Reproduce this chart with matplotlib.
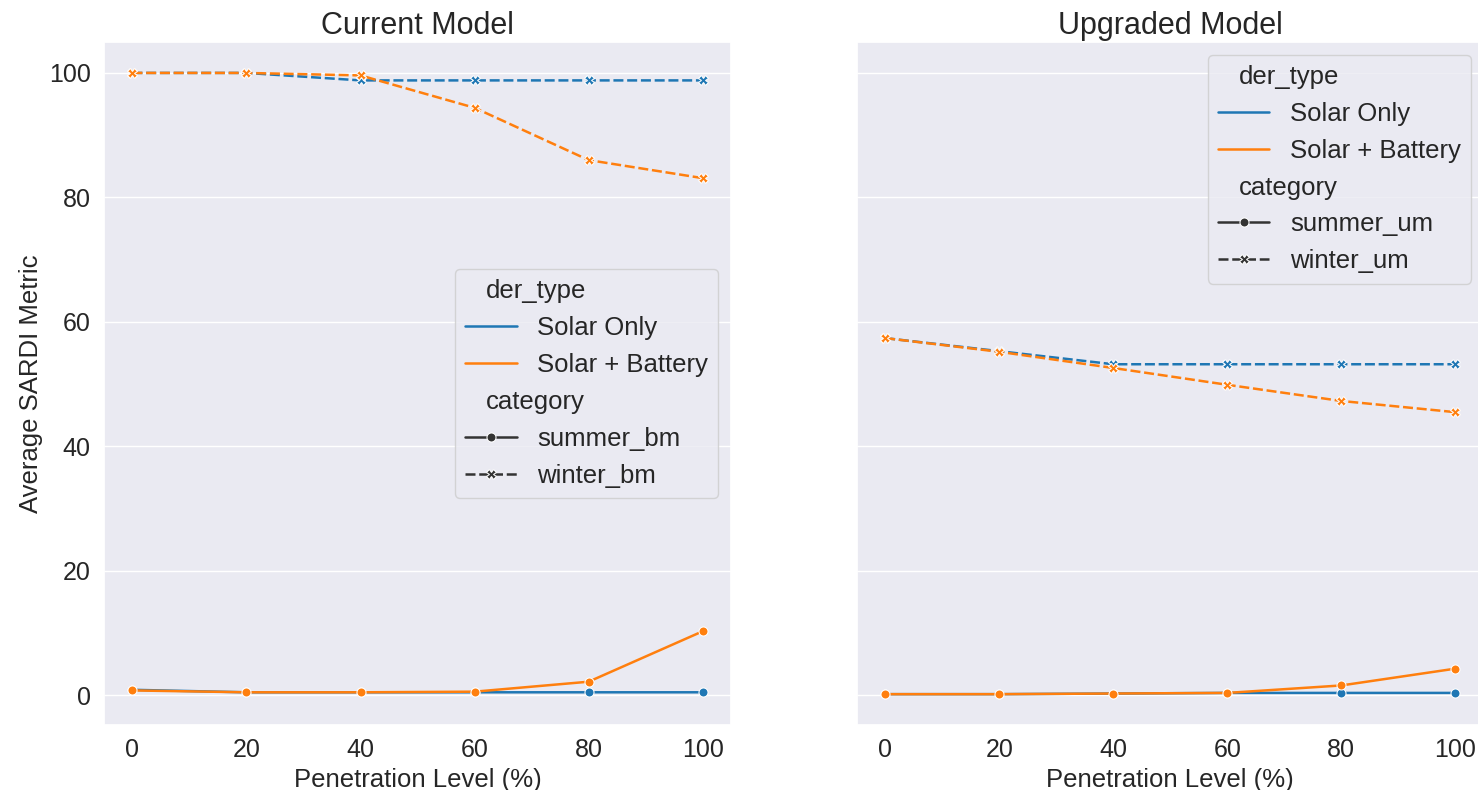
import numpy as np
import pandas as pd
import matplotlib
matplotlib.use("Agg")
import matplotlib.pyplot as plt
import seaborn as sns

sns.set_theme(style="darkgrid")
plt.rcParams['font.family'] = ['Liberation Sans', 'DejaVu Sans']

levels = [0, 20, 40, 60, 80, 100]

# current model (bm)
cur_summer_solar = [0.9, 0.5, 0.5, 0.5, 0.5, 0.5]
cur_summer_batt = [0.8, 0.5, 0.5, 0.6, 2.2, 10.3]
cur_winter_solar = [100.0, 100.0, 98.8, 98.8, 98.8, 98.8]
cur_winter_batt = [100.0, 100.0, 99.6, 94.4, 86.0, 83.1]

# upgraded model (um)
upg_summer_solar = [0.2, 0.2, 0.3, 0.4, 0.4, 0.4]
upg_summer_batt = [0.2, 0.2, 0.3, 0.4, 1.6, 4.3]
upg_winter_solar = [57.4, 55.3, 53.2, 53.2, 53.2, 53.2]
upg_winter_batt = [57.4, 55.2, 52.6, 49.9, 47.3, 45.5]

palette = ["#1f77b4", "#ff7f0e"]


def make_df(summer_solar, summer_batt, winter_solar, winter_batt, suffix):
    rows = []
    for cat, solar, batt in [("summer_" + suffix, summer_solar, summer_batt),
                             ("winter_" + suffix, winter_solar, winter_batt)]:
        for lv, v in zip(levels, solar):
            rows.append((lv, v, "Solar Only", cat))
        for lv, v in zip(levels, batt):
            rows.append((lv, v, "Solar + Battery", cat))
    return pd.DataFrame(rows, columns=["level", "value", "der_type", "category"])


df_cur = make_df(cur_summer_solar, cur_summer_batt, cur_winter_solar, cur_winter_batt, "bm")
df_upg = make_df(upg_summer_solar, upg_summer_batt, upg_winter_solar, upg_winter_batt, "um")

fig, axes = plt.subplots(1, 2, figsize=(14.78, 7.9), dpi=100, sharey=True)
# the right panel runs slightly past the edge in the original
fig.subplots_adjust(left=0.0703, right=1.004, bottom=0.082, top=0.947, wspace=0.2)

for ax, df, title, loc in [(axes[0], df_cur, "Current Model", "center right"),
                           (axes[1], df_upg, "Upgraded Model", "upper right")]:
    sns.lineplot(data=df, x="level", y="value", hue="der_type", style="category",
                 markers=True, palette=palette, linewidth=1.8, markersize=6.5, ax=ax)
    ax.set_title(title, fontsize=22)
    ax.set_xlabel("Penetration Level (%)", fontsize=18.5)
    ax.tick_params(labelsize=18)
    ax.xaxis.grid(False)
    leg = ax.legend(loc=loc, fontsize=18.5)
    # subtitles sit further left, like in older seaborn
    for col in leg._legend_handle_box.get_children():
        for entry in col.get_children():
            da, ta = entry.get_children()
            if ta.get_text() in ("der_type", "category"):
                da.width = 0

axes[0].set_ylabel("Average SARDI Metric", fontsize=18.5)
axes[1].set_ylabel("")

fig.savefig("out.png", dpi=100)
